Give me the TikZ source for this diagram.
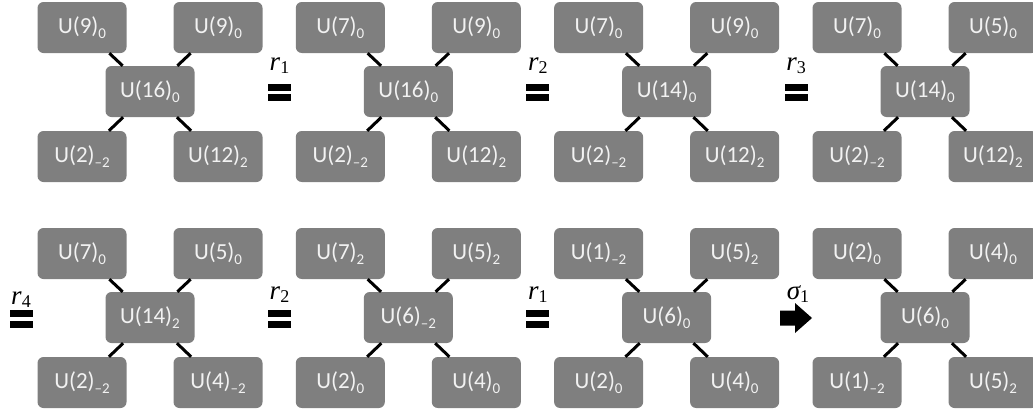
\documentclass[tikz,border=0pt]{standalone}
\usepackage{fontspec}
\setmainfont{Carlito}
\newfontfamily\lblfont{Liberation Serif}
\definecolor{boxgray}{HTML}{7F7F7F}
\definecolor{boxtext}{HTML}{F2F2F2}
% U(n) with a charge subscript
\newcommand\Un[2]{U(#1)\raisebox{-0.22em}{\fontsize{15}{15}\selectfont #2}}
\newcommand\mn{–}
% italic move label with a numeric index
\newcommand\mlab[2]{{\lblfont\fontsize{27}{27}\selectfont\itshape #1}%
  \raisebox{-0.3em}{\lblfont\fontsize{18}{18}\selectfont #2}}
\begin{document}
\begin{tikzpicture}[x=1pt,y=-1pt,
  box/.style={fill=boxgray, rounded corners=6pt, minimum width=89pt,
    minimum height=51pt, inner sep=0pt, text=boxtext,
    font=\fontsize{23}{27}\selectfont},
  link/.style={line width=3pt, black},
  lab/.style={inner sep=0pt, anchor=base},
  bar/.style={fill=black}]
\useasboundingbox (0,0) rectangle (1033,413);
\clip (0,0) rectangle (1033,413);

% one quiver: name, centre x, centre y, five labels
\newcommand\quiver[8]{%
  \node[box] (#1c)  at (#2,#3)       {#6};
  \node[box] (#1tl) at (#2-68,#3-64) {#4};
  \node[box] (#1tr) at (#2+68,#3-64) {#5};
  \node[box] (#1bl) at (#2-68,#3+65) {#7};
  \node[box] (#1br) at (#2+68,#3+65) {#8};
  \draw[link] (#1c) -- (#1tl);
  \draw[link] (#1c) -- (#1tr);
  \draw[link] (#1c) -- (#1bl);
  \draw[link] (#1c) -- (#1br);}
% equality sign with its label: name, centre x, centre y, label baseline y, letter, index
\newcommand\eqsign[6]{%
  \fill[bar] (#2-11.5,#3-8.5) rectangle (#2+11.5,#3-1.5);
  \fill[bar] (#2-11.5,#3+2) rectangle (#2+11.5,#3+9);
  \node[lab] (#1) at (#2,#4) {\mlab{#5}{#6}};}

% first row
\quiver{a}{150}{91.5}{\Un{9}{0}}{\Un{9}{0}}{\Un{16}{0}}{\Un{2}{\mn2}}{\Un{12}{2}}
\quiver{b}{408.3}{91.5}{\Un{7}{0}}{\Un{9}{0}}{\Un{16}{0}}{\Un{2}{\mn2}}{\Un{12}{2}}
\quiver{c}{666.6}{91.5}{\Un{7}{0}}{\Un{9}{0}}{\Un{14}{0}}{\Un{2}{\mn2}}{\Un{12}{2}}
\quiver{d}{925}{91.5}{\Un{7}{0}}{\Un{5}{0}}{\Un{14}{0}}{\Un{2}{\mn2}}{\Un{12}{2}}
\eqsign{e1}{279.5}{92}{70}{r}{1}
\eqsign{e2}{537.8}{92}{70}{r}{2}
\eqsign{e3}{796.1}{92}{70}{r}{3}

% second row
\quiver{f}{150}{317.5}{\Un{7}{0}}{\Un{5}{0}}{\Un{14}{2}}{\Un{2}{\mn2}}{\Un{4}{\mn2}}
\quiver{g}{408.3}{317.5}{\Un{7}{2}}{\Un{5}{2}}{\Un{6}{\mn2}}{\Un{2}{0}}{\Un{4}{0}}
\quiver{h}{666.6}{317.5}{\Un{1}{\mn2}}{\Un{5}{2}}{\Un{6}{0}}{\Un{2}{0}}{\Un{4}{0}}
\quiver{k}{925}{317.5}{\Un{2}{0}}{\Un{4}{0}}{\Un{6}{0}}{\Un{1}{\mn2}}{\Un{5}{2}}
\eqsign{e4}{21}{318.5}{304}{r}{4}
\eqsign{e5}{279.5}{318.5}{299}{r}{2}
\eqsign{e6}{537.8}{318.5}{299}{r}{1}

% block arrow for the move sigma_1
\fill[black] (780,310.5) -- (795,310.5) -- (795,303) -- (812,318) --
  (795,333) -- (795,325.5) -- (780,325.5) -- cycle;
\node[lab] (s1) at (798,299) {\mlab{σ}{1}};
\end{tikzpicture}
\end{document}
